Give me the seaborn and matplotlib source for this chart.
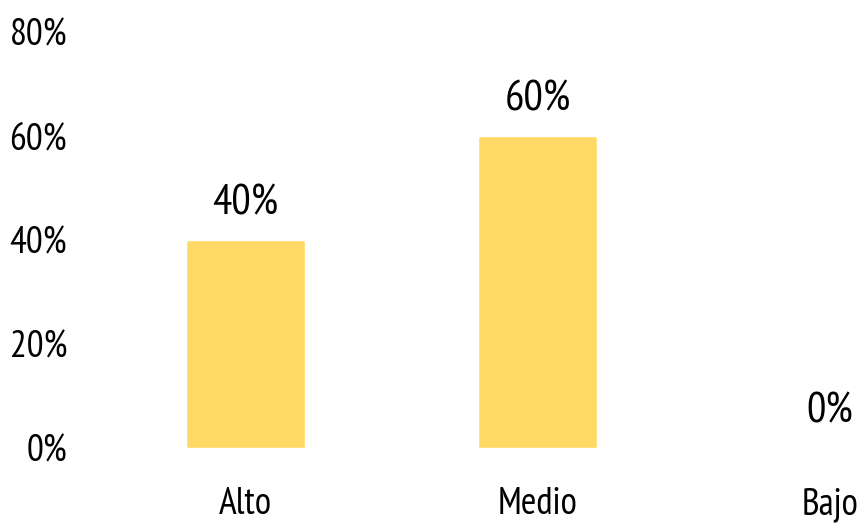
import matplotlib
matplotlib.use("Agg")
import matplotlib.pyplot as plt
import seaborn as sns
import pandas as pd
from matplotlib.ticker import FuncFormatter

categories = ["Alto", "Medio", "Bajo"]
values = [0.40, 0.60, 0.00]
y_ticks = [0.0, 0.2, 0.4, 0.6, 0.8]

sns.set_theme(style="white")
plt.rcParams["font.family"] = ["PT Sans Narrow", "DejaVu Sans"]
plt.rcParams["font.weight"] = "normal"

df = pd.DataFrame({"nivel": categories, "pct": values})

fig = plt.figure(figsize=(8.61, 5.25), dpi=100)
ax = fig.add_axes([0.115, 0.1467, 0.885, 0.792])

sns.barplot(data=df, x="nivel", y="pct", color="#FFD966", width=0.407,
            saturation=1, ax=ax)

ax.set_ylim(0, 0.8)
ax.set_xlim(-0.5, 2.106)
ax.set_yticks(y_ticks)
ax.yaxis.set_major_formatter(FuncFormatter(lambda v, _: f"{v:.0%}"))
ax.set_xlabel("")
ax.set_ylabel("")
ax.tick_params(axis="y", labelsize=27, pad=23, length=0, colors="black")
ax.tick_params(axis="x", labelsize=27, pad=28, length=0, colors="black")
sns.despine(ax=ax, left=True, bottom=True)

for container in ax.containers:
    ax.bar_label(container, labels=[f"{v:.0%}" for v in values],
                 padding=12, fontsize=31, color="black")

fig.savefig("out.png", dpi=100)
